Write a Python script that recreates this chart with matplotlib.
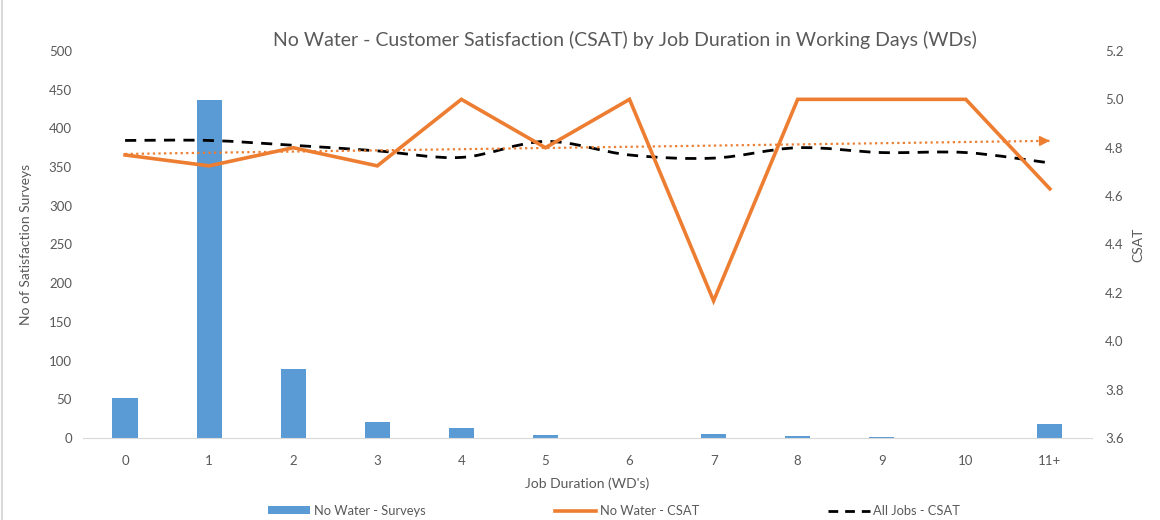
import numpy as np
import matplotlib
matplotlib.use("Agg")
import matplotlib.pyplot as plt
from matplotlib.path import Path
from matplotlib.patches import PathPatch
from matplotlib.lines import Line2D
from matplotlib.patches import Patch

plt.rcParams['font.family'] = ['Lato', 'DejaVu Sans']

categories = ["0", "1", "2", "3", "4", "5", "6", "7", "8", "9", "10", "11+"]
surveys = [52, 437, 89, 21, 13, 4, 0, 5, 2, 1, 0, 18]
nowater_csat = [4.77, 4.725, 4.80, 4.725, 5.0, 4.80, 5.0, 4.167, 5.0, 5.0, 5.0, 4.63]
alljobs_csat = [4.83, 4.83, 4.81, 4.787, 4.76, 4.826, 4.77, 4.757, 4.80, 4.78, 4.78, 4.737]

title = "No Water - Customer Satisfaction (CSAT) by Job Duration in Working Days (WDs)"
grey = "#595959"
blue = "#5B9BD5"
orange = "#ED7D31"

fig = plt.figure(figsize=(11.6, 5.2), dpi=100)
ax = fig.add_axes([0.0716, 0.1577, 0.8697, 0.7443])
ax2 = ax.twinx()

x = np.arange(len(categories))
ax.bar(x, surveys, width=0.3, color=blue, zorder=2)
ax.set_xlim(-0.5, len(categories) - 0.5)
ax.set_ylim(0, 500)
ax.set_yticks(np.arange(0, 501, 50))
ax.set_xticks(x)
ax.set_xticklabels(categories)

for a in (ax, ax2):
    for s in ("top", "right", "left"):
        a.spines[s].set_visible(False)
    a.tick_params(axis='both', length=0, colors=grey, labelsize=9.5, pad=8)
ax.spines["bottom"].set_color("#D9D9D9")
ax2.spines["bottom"].set_visible(False)
ax.tick_params(axis='x', pad=12)

ax.set_xlabel("Job Duration (WD's)", color=grey, fontsize=10, labelpad=8)
ax.set_ylabel("No of Satisfaction Surveys", color=grey, fontsize=10, labelpad=12)

ax2.set_ylim(3.6, 5.2)
ax2.set_yticks(np.arange(3.6, 5.21, 0.2))
ax2.set_yticklabels([f"{v:.1f}" for v in np.arange(3.6, 5.21, 0.2)])
ax2.set_ylabel("CSAT", color=grey, fontsize=10, labelpad=6)
ax2.tick_params(axis='y', pad=9.5)

# No Water CSAT line
ax2.plot(x, nowater_csat, color=orange, lw=2.6, solid_joinstyle='miter', zorder=4)

# All Jobs CSAT smoothed dashed line (Bezier through data points)
pts = np.column_stack([x, alljobs_csat]).astype(float)
verts = [tuple(pts[0])]
codes = [Path.MOVETO]
n = len(pts)
for i in range(n - 1):
    p0 = pts[i - 1] if i > 0 else pts[i]
    p1 = pts[i]
    p2 = pts[i + 1]
    p3 = pts[i + 2] if i + 2 < n else pts[i + 1]
    c1 = p1 + (p2 - p0) / 6.0
    c2 = p2 - (p3 - p1) / 6.0
    verts += [tuple(c1), tuple(c2), tuple(p2)]
    codes += [Path.CURVE4] * 3
path = Path(verts, codes)
ax2.add_patch(PathPatch(path, facecolor='none', edgecolor='black', lw=2.0,
                        linestyle=(0, (4, 3)), zorder=3))

# Linear trendline of No Water CSAT
coef = np.polyfit(x, nowater_csat, 1)
trend = np.polyval(coef, x)
ax2.plot(x, trend, color=orange, lw=1.6, linestyle=(0, (1, 1.5)), zorder=3)
ax2.annotate("", xy=(x[-1], trend[-1]), xytext=(x[-1] - 0.12, trend[-1] - coef[0] * 0.12),
             arrowprops=dict(arrowstyle="-|>,head_length=0.6,head_width=0.3",
                             color=orange, lw=1.2, shrinkA=0, shrinkB=0), zorder=3)

fig.text(0.539, 0.923, title, ha='center', va='center', color=grey, fontsize=14)

handles = [Patch(facecolor=blue, edgecolor='none'),
           Line2D([0], [0], color=orange, lw=2.6),
           Line2D([0], [0], color='black', lw=2.0, linestyle=(0, (3.5, 2.5)))]
labels = ["No Water - Surveys", "No Water - CSAT", "All Jobs - CSAT"]
leg = fig.legend(handles, labels, loc='center', bbox_to_anchor=(0.5297, 0.018), ncol=3,
                 frameon=False, fontsize=9.3, columnspacing=10.0, handlelength=3.2,
                 handletextpad=0.3, handleheight=0.5)
for t in leg.get_texts():
    t.set_color(grey)

fig.add_artist(Line2D([0.002, 0.002], [0, 1], color="#D9D9D9", lw=1.5, transform=fig.transFigure))

fig.savefig("out.png", dpi=100)
